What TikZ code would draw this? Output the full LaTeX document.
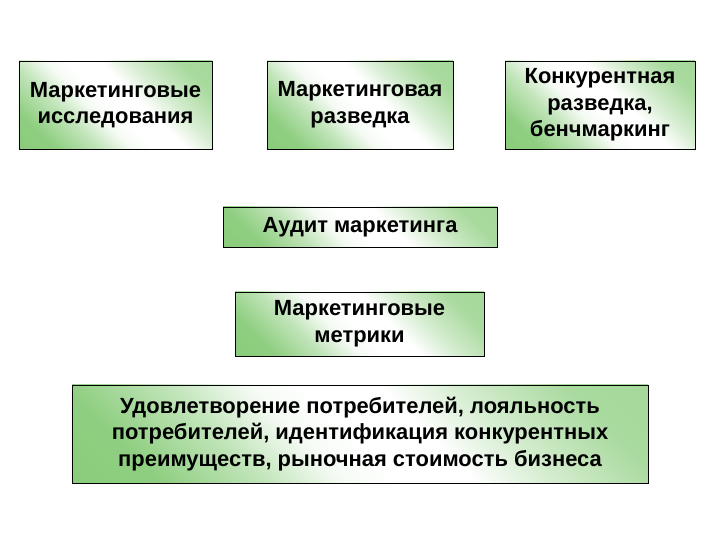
\documentclass[tikz,border=0pt]{standalone}
\usepackage{fontspec}
\setmainfont{Liberation Sans}

\definecolor{boxgreen}{RGB}{128,200,112}
\pgfdeclarehorizontalshading{greenband}{100bp}{color(0bp)=(boxgreen); color(24bp)=(boxgreen!88); color(35bp)=(boxgreen!48); color(43bp)=(boxgreen!8); color(49bp)=(white); color(57bp)=(white); color(65bp)=(boxgreen!32); color(77bp)=(boxgreen!68); color(100bp)=(boxgreen!75)}

\begin{document}
\begin{tikzpicture}[
    greenbox/.style={draw=black, line width=0.7pt, shading=greenband, shading angle=45,
      align=center, inner sep=0pt, text=black,
      font=\fontsize{15.6}{19}\selectfont\bfseries}
  ]
      \useasboundingbox[fill=white] (0,0) rectangle (18,13.5);

      \node[greenbox, minimum width=4.825cm, minimum height=2.2cm] (research) at (2.8875,10.875)
        {Маркетинговые\\исследования};
      \node[greenbox, minimum width=4.65cm, minimum height=2.2cm] (intel) at (9.0,10.875)
        {Маркетинговая\\разведка};
      \node[greenbox, minimum width=4.75cm, minimum height=2.2cm] (bench) at (15.0,10.875)
        {Конкурентная\\разведка,\\бенчмаркинг};

      \node[greenbox, minimum width=6.85cm, minimum height=1.0cm] (audit) at (9.0,7.825)
        {Аудит маркетинга};
      \node[greenbox, minimum width=6.225cm, minimum height=1.6cm] (metrics) at (8.9875,5.4)
        {Маркетинговые\\метрики};

      \node[greenbox, minimum width=14.4cm, minimum height=2.45cm] (results) at (9.0,2.65)
        {Удовлетворение потребителей, лояльность\\
         потребителей, идентификация конкурентных\\
         преимуществ, рыночная стоимость бизнеса};
    \end{tikzpicture}
\end{document}
